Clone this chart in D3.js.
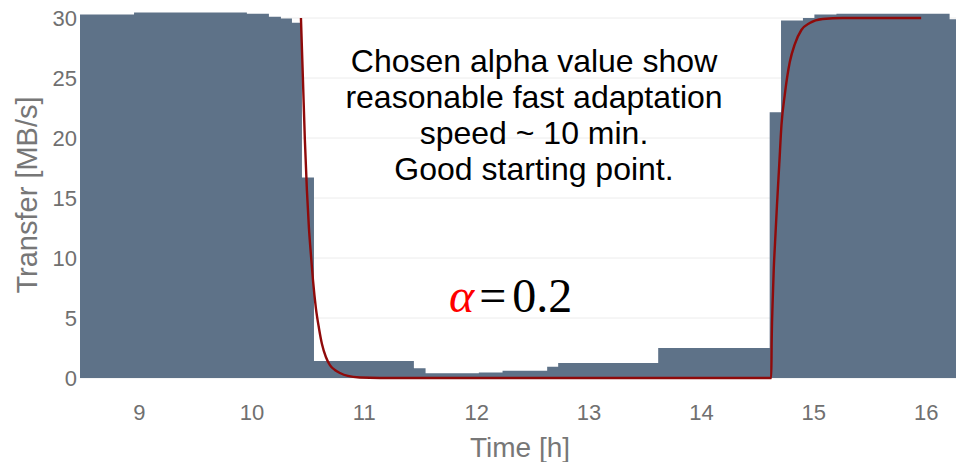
<!DOCTYPE html>
<html>
<head>
<meta charset="utf-8">
<script src="https://cdn.jsdelivr.net/npm/d3@7"></script>
<style>
  html, body { margin: 0; padding: 0; background: #fff; }
  svg { display: block; }
</style>
</head>
<body>
<svg id="chart" width="956" height="462"></svg>
<script>
// Measured transfer rate, one value per interval starting at stepStart [h]
const stepStart = [8.475, 8.956, 9.96, 10.156, 10.263, 10.361, 10.45, 10.557, 11.446, 11.55,
                   12.024, 12.235, 12.632, 12.73, 13.62, 14.612, 14.713, 14.908, 15.01, 15.206, 16.213];
const stepValue = [30.3, 30.45, 30.35, 30.1, 29.95, 29.6, 16.7, 1.42, 0.81, 0.39,
                   0.46, 0.61, 0.94, 1.24, 2.5, 22.15, 29.8, 30.0, 30.3, 30.35, 29.9];
const stepEnd = 16.27;

// Exponentially smoothed estimate (alpha = 0.2)
const emaTime = [10.441, 10.459, 10.476, 10.494, 10.512, 10.530, 10.548, 10.574, 10.601, 10.628,
                 10.663, 10.699, 10.743, 10.788, 10.859, 10.966, 11.144, 14.621,
                 14.626, 14.630, 14.639, 14.648, 14.661, 14.677, 14.697, 14.717, 14.746, 14.791,
                 14.836, 14.894, 14.968, 15.084, 15.262, 15.591, 15.960];
const emaValue = [30.0, 24.83, 19.83, 15.67, 12.5, 10.25, 8.17, 5.83, 4.17, 2.83,
                  1.75, 1.08, 0.67, 0.42, 0.17, 0.04, 0.0, 0.0,
                  0.0, 3.17, 6.5, 9.0, 11.5, 14.42, 17.75, 21.08, 23.58, 26.33,
                  27.83, 29.0, 29.58, 29.92, 30.0, 30.0, 30.0];

const xTicks = [9, 10, 11, 12, 13, 14, 15, 16];
const yTicks = [0, 5, 10, 15, 20, 25, 30];

const noteLines = ["Chosen alpha value show", "reasonable fast adaptation", "speed ~ 10 min.", "Good starting point."];

const svg = d3.select("#chart");
const plot = { left: 80, right: 956, top: 18, bottom: 378 };
const sans = "Liberation Sans, Arial, sans-serif";

const x = d3.scaleLinear().domain([8.475, 16.27]).range([plot.left, plot.right]);
const y = d3.scaleLinear().domain([0, 30]).range([plot.bottom, plot.top]);

// horizontal grid
svg.append("g")
  .selectAll("line")
  .data(yTicks)
  .join("line")
  .attr("x1", plot.left).attr("x2", plot.right)
  .attr("y1", d => y(d)).attr("y2", d => y(d))
  .attr("stroke", "#ececec").attr("stroke-width", 1);

// step area
const steps = stepStart.map((t, i) => [t, stepValue[i]]);
steps.push([stepEnd, stepValue[stepValue.length - 1]]);
const area = d3.area()
  .x(d => x(d[0]))
  .y0(y(0))
  .y1(d => y(d[1]))
  .curve(d3.curveStepAfter);
svg.append("path")
  .datum(steps)
  .attr("d", area)
  .attr("fill", "#5e7288");

// smoothed line
const ema = emaTime.map((t, i) => [t, emaValue[i]]);
const line = d3.line()
  .x(d => x(d[0]))
  .y(d => y(d[1]))
  .curve(d3.curveMonotoneX);
svg.append("path")
  .datum(ema)
  .attr("d", line)
  .attr("fill", "none")
  .attr("stroke", "#8f0a0a")
  .attr("stroke-width", 2.4);

// axes
const yAxis = d3.axisLeft(y).tickValues(yTicks).tickSize(0).tickPadding(3);
const gy = svg.append("g").attr("transform", `translate(${plot.left},0)`).call(yAxis);
gy.select(".domain").remove();
gy.selectAll("text")
  .attr("font-family", sans)
  .attr("font-size", 22)
  .attr("fill", "#707070");

const xAxis = d3.axisBottom(x).tickValues(xTicks).tickSize(0).tickPadding(26);
const gx = svg.append("g").attr("transform", `translate(0,${plot.bottom})`).call(xAxis);
gx.select(".domain").remove();
gx.selectAll("text")
  .attr("font-family", sans)
  .attr("font-size", 22)
  .attr("fill", "#707070");

// axis titles
svg.append("text")
  .attr("x", 520).attr("y", 457)
  .attr("text-anchor", "middle")
  .attr("font-family", sans)
  .attr("font-size", 28)
  .attr("fill", "#777")
  .text("Time [h]");

svg.append("text")
  .attr("transform", "translate(37,195) rotate(-90)")
  .attr("text-anchor", "middle")
  .attr("font-family", sans)
  .attr("font-size", 29)
  .attr("fill", "#777")
  .text("Transfer [MB/s]");

// annotation
svg.append("text")
  .attr("text-anchor", "middle")
  .attr("font-family", sans)
  .attr("font-size", 32)
  .attr("fill", "#000")
  .selectAll("tspan")
  .data(noteLines)
  .join("tspan")
  .attr("x", 534)
  .attr("y", (d, i) => 72 + i * 36)
  .text(d => d);

const alphaLabel = svg.append("text")
  .attr("x", 449).attr("y", 312)
  .attr("font-family", "Liberation Serif, Times New Roman, serif")
  .attr("font-size", 48);
alphaLabel.append("tspan").attr("fill", "#ff0000").attr("font-style", "italic").text("α");
alphaLabel.append("tspan").attr("fill", "#000").attr("dx", 5).text("=");
alphaLabel.append("tspan").attr("fill", "#000").attr("dx", 6).text("0.2");
</script>
</body>
</html>
